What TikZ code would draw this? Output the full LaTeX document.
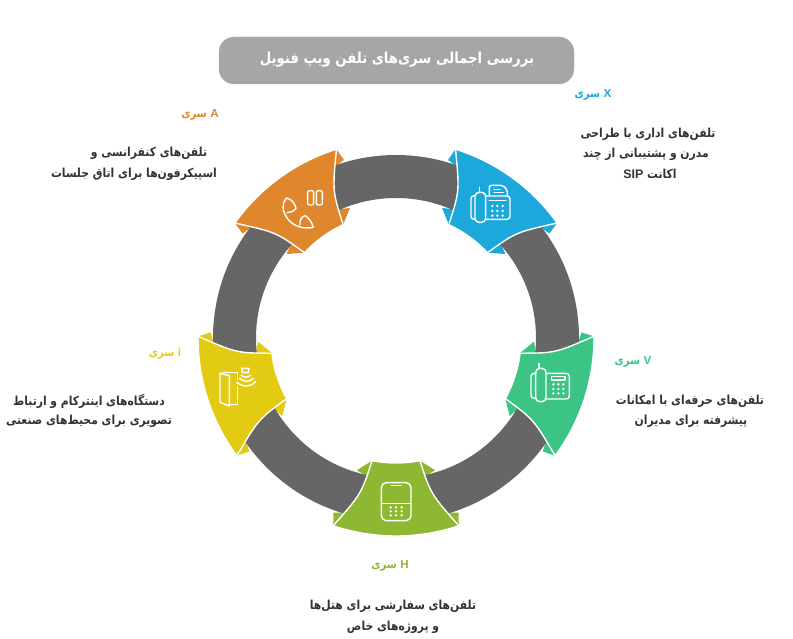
\documentclass[tikz,border=0pt]{standalone}
\usepackage{fontspec}
\TeXXeTstate=1
\newfontfamily\fa[Script=Arabic,BoldFont={DejaVu Sans Bold},FakeStretch=0.87]{DejaVu Sans}
\newfontfamily\la[BoldFont={Liberation Sans Bold}]{Liberation Sans}
\newcommand{\latin}[1]{\beginL{\la\bfseries #1}\endL{}}
\definecolor{cOrange}{HTML}{E0872E}
\definecolor{cBlue}{HTML}{1DA8DC}
\definecolor{cGreen}{HTML}{3CC484}
\definecolor{cOlive}{HTML}{8FB832}
\definecolor{cYellow}{HTML}{E2CB12}
\definecolor{cRing}{HTML}{666666}
\definecolor{cTitle}{HTML}{A6A6A6}
\definecolor{cText}{HTML}{333333}
\tikzset{
  bodytext/.style={font=\fa\bfseries\fontsize{12.4}{15}\selectfont,text=cText,inner sep=0pt},
  headtext/.style={font=\fa\bfseries\fontsize{11.6}{14}\selectfont,inner sep=0pt},
  titletext/.style={font=\fa\bfseries\fontsize{15.2}{18}\selectfont,text=white,inner sep=0pt},
  iconline/.style={draw=white,line width=1.4pt,line join=round,line cap=round},
  segedge/.style={draw=white,line width=1.4pt,line join=miter}
}
\begin{document}
\begin{tikzpicture}[x=1pt,y=1pt]
\useasboundingbox (0,0) rectangle (793,638);
% ring
\begin{scope}[shift={(396,300)}]
  \foreach \a/\c in {126/cOrange,54/cBlue,-18/cGreen,-90/cOlive,-162/cYellow}{
    \foreach \s in {1,-1}{
      \fill[\c] ({\a+\s*18.5}:198) -- ({\a+\s*19.7}:185.5) -- ({\a+\s*16.4}:182) -- cycle;
      \fill[\c] ({\a+\s*11}:125) -- ({\a+\s*16.5}:138) -- ({\a+\s*11.8}:141) -- cycle;
    }
  }
  \fill[cRing,even odd rule] (0,0) circle[radius=183] (0,0) circle[radius=140];
  \foreach \a/\c in {126/cOrange,54/cBlue,-18/cGreen,-90/cOlive,-162/cYellow}{
    \filldraw[segedge,fill=\c]
      ({\a+18.5}:198) arc[start angle={\a+18.5},end angle={\a-18.5},radius=198]
      .. controls ({\a-12.6}:160) .. ({\a-11}:125)
      arc[start angle={\a-11},end angle={\a+11},radius=125]
      .. controls ({\a+12.6}:160) .. cycle;
  }
\end{scope}
\begin{scope}[yshift=638pt,y=-1pt]
  % title
  \node[draw=cTitle!85!white,fill=cTitle,rounded corners=15pt,minimum width=355pt,minimum height=47pt,inner sep=0pt] (titlebox) at (396.5,60.5) {};
  \node[titletext] (titlelabel) at (397,60) {\beginR بررسی اجمالی سری‌های تلفن ویپ فنویل\endR};
  % labels
  \node[headtext,text=cOrange] (headA) at (200,115) {\beginR\latin{A} سری\endR};
  \node[bodytext] (a1) at (149,153) {\beginR تلفن‌های کنفرانسی و\endR};
  \node[bodytext] (a2) at (134,174) {\beginR اسپیکرفون‌ها برای اتاق جلسات\endR};
  \node[headtext,text=cBlue] (headX) at (593,95) {\beginR\latin{X} سری\endR};
  \node[bodytext] (x1) at (648,134) {\beginR تلفن‌های اداری با طراحی\endR};
  \node[bodytext] (x2) at (646,154) {\beginR مدرن و پشتیبانی از چند\endR};
  \node[bodytext] (x3) at (650,174) {\beginR اکانت \latin{SIP}\endR};
  \node[headtext,text=cGreen] (headV) at (633,362) {\beginR\latin{V} سری\endR};
  \node[bodytext] (v1) at (690,401) {\beginR تلفن‌های حرفه‌ای با امکانات\endR};
  \node[bodytext] (v2) at (691,421) {\beginR پیشرفته برای مدیران\endR};
  \node[headtext,text=cOlive] (headH) at (390,566) {\beginR\latin{H} سری\endR};
  \node[bodytext] (h1) at (393,606) {\beginR تلفن‌های سفارشی برای هتل‌ها\endR};
  \node[bodytext] (h2) at (393,627) {\beginR و پروژه‌های خاص\endR};
  \node[headtext,text=cYellow] (headI) at (165,354) {\beginR\latin{i} سری\endR};
  \node[bodytext] (i1) at (89,401) {\beginR دستگاه‌های اینترکام و ارتباط\endR};
  \node[bodytext] (i2) at (89,421) {\beginR تصویری برای محیط‌های صنعتی\endR};
  % orange icon
  \begin{scope}[shift={(200,130)},x=1/3*1pt,y=-1/3*1pt]
    \draw[iconline,rounded corners=2pt] (323,182) rectangle (341,225);
    \draw[iconline,rounded corners=2pt] (349,182) rectangle (367,225);
    \draw[iconline] (260,204) .. controls (275,208) and (285,220) .. (288,235)
      .. controls (280,245) and (270,248) .. (262,248);
    \draw[iconline] (260,204) .. controls (245,220) and (245,240) .. (262,265)
      .. controls (280,290) and (310,298) .. (340,292)
      .. controls (335,275) and (325,262) .. (315,257)
      .. controls (305,260) and (298,270) .. (300,285);
  \end{scope}
  % blue icon
  \begin{scope}[shift={(420,130)},x=1/3*1pt,y=-1/3*1pt]
    \draw[iconline,rounded corners=4pt] (165,187) rectangle (197,277);
    \draw[iconline] (178,172) -- (178,187);
    \draw[iconline,rounded corners=3pt] (165,197) -- (153,197) -- (153,268) -- (165,268);
    \draw[iconline,rounded corners=3pt] (197,198) -- (270,198) -- (270,268) -- (197,268);
    \draw[iconline,rounded corners=2pt] (208,197) -- (208,166) -- (248,166) -- (262,180) -- (262,197);
    \draw[iconline] (222,178) -- (240,178) (222,187) -- (250,187);
    \draw[iconline] (208,211) -- (258,211);
    \foreach \px in {217,232,248}\foreach \py in {228,243,257}{\fill[white] (\px,\py) circle[radius=4];}
  \end{scope}
  % green icon
  \begin{scope}[shift={(480,330)},x=1/3*1pt,y=-1/3*1pt]
    \draw[iconline,rounded corners=4pt] (167,115) rectangle (198,215);
    \draw[iconline] (177,100) -- (177,115);
    \draw[iconline,rounded corners=3pt] (167,130) -- (153,130) -- (153,205) -- (167,205);
    \draw[iconline,rounded corners=3pt] (198,130) -- (268,130) -- (268,207) -- (198,207);
    \draw[iconline] (215,140) rectangle (255,150);
    \foreach \px in {220,235,250}\foreach \py in {163,177,190}{\fill[white] (\px,\py) circle[radius=4];}
  \end{scope}
  % olive icon
  \begin{scope}[shift={(320,450)},x=1/3*1pt,y=-1/3*1pt]
    \draw[iconline,rounded corners=5pt] (184,98) rectangle (273,212);
    \draw[iconline] (215,106) -- (243,106) (184,160) -- (273,160);
    \foreach \px in {212,228,245}\foreach \py in {172,184,196}{\fill[white] (\px,\py) circle[radius=4];}
  \end{scope}
  % yellow icon
  \begin{scope}[shift={(185,325)},x=1/3*1pt,y=-1/3*1pt]
    \draw[iconline] (105,145) -- (133,152) -- (133,243) -- (105,232) -- cycle;
    \draw[iconline] (112,143) -- (158,143) -- (158,163);
    \draw[iconline] (158,185) -- (158,238) -- (133,238);
    \draw[iconline] (170,130) -- (192,130) -- (190,143) -- (172,143) -- cycle;
    \draw[iconline] (168,151) .. controls (178,158) and (188,158) .. (197,151);
    \draw[iconline] (163,160) .. controls (178,172) and (192,172) .. (205,160);
    \draw[iconline] (155,172) .. controls (175,188) and (198,186) .. (212,170);
  \end{scope}
\end{scope}
\end{tikzpicture}
\end{document}
